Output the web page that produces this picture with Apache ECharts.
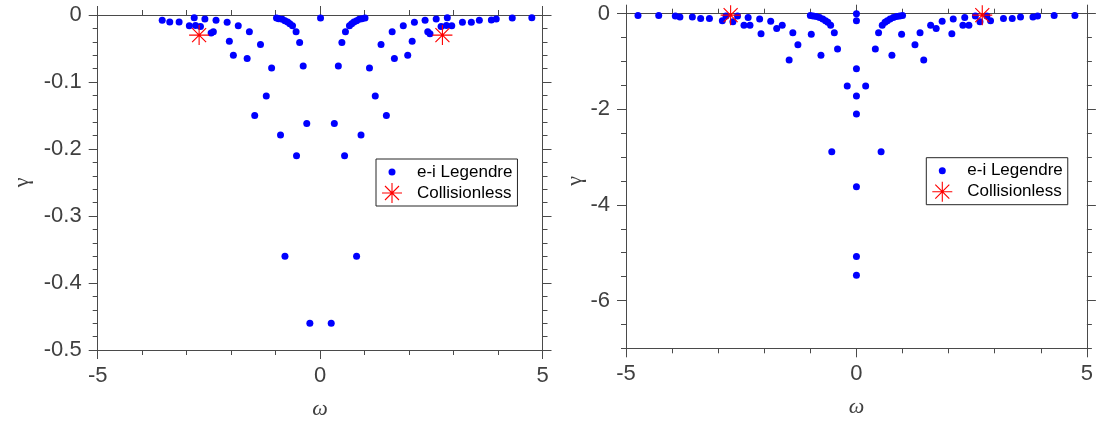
<!DOCTYPE html>
<html>
<head>
<meta charset="utf-8">
<script src="https://cdn.jsdelivr.net/npm/echarts@6/dist/echarts.min.js"></script>
<style>
html,body{margin:0;padding:0;background:#fff;}
#chart{width:1096px;height:432px;}
</style>
</head>
<body>
<div id="chart"></div>
<script>
// ---------- data ----------
const seriesNames = ['e-i Legendre', 'Collisionless'];

// Left panel: e-i Legendre eigenvalues (omega, gamma)
const leftOmega = [
  -3.55, -3.38, -3.17, -2.83, -2.94, -2.80, -2.69, -2.59, -2.40, -2.45, -2.34, -2.09, -2.04, -1.84, -1.95,
  -1.59, -1.64, -1.34, -1.09, -1.21, -1.47, -0.98, -0.93, -0.85, -0.79, -0.73, -0.68, -0.62, -0.54, -0.46,
  -0.38, -0.30, -0.89, -0.53, -0.79, -0.23,
  0.01,
  0.32, 0.41, 0.49, 0.57, 0.66, 0.71, 0.76, 0.82, 0.88, 0.94, 1.01, 1.11, 1.24, 1.49, 1.37, 1.62, 1.67,
  1.87, 1.97, 2.07, 2.12, 2.36, 2.42, 2.47, 2.61, 2.72, 2.84, 2.86, 2.96, 3.20, 3.40, 3.58, 3.85, 3.96,
  4.32, 4.76, 0.92, 0.55, 0.82, 0.25
];
const leftGamma = [
  -0.008, -0.0105, -0.0105, -0.004, -0.016, -0.0155, -0.017, -0.006, -0.025, -0.027, -0.008, -0.011, -0.039, -0.016, -0.060,
  -0.025, -0.065, -0.044, -0.079, -0.121, -0.150, -0.0045, -0.0055, -0.0065, -0.0085, -0.0105, -0.013, -0.016, -0.025, -0.041,
  -0.076, -0.162, -0.179, -0.210, -0.360, -0.460,
  -0.0045,
  -0.162, -0.076, -0.041, -0.025, -0.016, -0.013, -0.0105, -0.0085, -0.0065, -0.0055, -0.0045, -0.079, -0.121, -0.150, -0.044, -0.025, -0.065,
  -0.016, -0.060, -0.039, -0.011, -0.008, -0.025, -0.028, -0.006, -0.017, -0.0155, -0.004, -0.016, -0.011, -0.011, -0.008, -0.0075, -0.006,
  -0.0045, -0.004, -0.179, -0.210, -0.360, -0.460
];
const leftStarOmega = [-2.72, 2.75];
const leftStarGamma = [-0.030, -0.030];

// Right panel: e-i Legendre eigenvalues (omega, gamma)
const rightOmega = [
  0, 0, 0, 0, 0, 0, 0, 0,
  1.00, 0.94, 0.87, 0.80, 0.73, 0.67, 0.62, 0.56, 0.48, 0.41, 0.20, 0.535, 0.98, 0.77, 1.27, 1.38, 1.46, 1.61,
  1.73, 1.86, 2.07, 2.10, 2.31, 2.44, 2.35, 2.58, 2.68, 2.83, 2.91, 3.19, 3.38, 3.56, 3.83, 3.93, 4.29, 4.74,
  -1.00, -0.94, -0.87, -0.80, -0.73, -0.67, -0.62, -0.56, -0.48, -0.41, -0.20, -0.535, -0.98, -0.77, -1.27, -1.38, -1.46, -1.61,
  -1.73, -1.86, -2.07, -2.10, -2.31, -2.44, -2.35, -2.58, -2.68, -2.83, -2.91, -3.19, -3.38, -3.56, -3.83, -3.93, -4.29, -4.74
];
const rightGamma = [
  0.0, -0.15, -1.15, -1.72, -2.10, -3.62, -5.08, -5.47,
  -0.04, -0.05, -0.06, -0.08, -0.11, -0.15, -0.18, -0.24, -0.40, -0.74, -1.51, -2.89, -0.43, -0.87, -0.65, -0.40, -0.97, -0.24,
  -0.31, -0.16, -0.42, -0.11, -0.24, -0.24, -0.08, -0.05, -0.17, -0.05, -0.15, -0.10, -0.10, -0.07, -0.07, -0.05, -0.04, -0.04,
  -0.04, -0.05, -0.06, -0.08, -0.11, -0.15, -0.18, -0.24, -0.40, -0.74, -1.51, -2.89, -0.43, -0.87, -0.65, -0.40, -0.97, -0.24,
  -0.31, -0.16, -0.42, -0.11, -0.24, -0.24, -0.08, -0.05, -0.17, -0.05, -0.15, -0.10, -0.10, -0.07, -0.07, -0.05, -0.04, -0.04
];
const rightStarOmega = [-2.73, 2.73];
const rightStarGamma = [-0.03, -0.03];

// Axis ranges / tick labels
const xRange = [-5, 5];
const xTickLabels = [-5, 0, 5];
const leftYRange = [-0.5, 0];
const leftYTickLabels = [0, -0.1, -0.2, -0.3, -0.4, -0.5];
const rightYRange = [-7, 0];
const rightYTickLabels = [0, -2, -4, -6];
const xName = 'ω';
const yName = 'γ';

// ---------- chart ----------
const zip = (a, b) => a.map((v, i) => [v, b[i]]);

const AX = '#4a4a4a';
const LBL = '#404040';
const FONT = 'Liberation Sans';
// asterisk marker made of four thin filled bars (box 0..20)
const starPath = 'path://' +
  'M0,9.45L20,9.45L20,10.55L0,10.55Z' +
  'M9.45,0L10.55,0L10.55,20L9.45,20Z' +
  'M3.4,2.6L17.4,16.6L16.6,17.4L2.6,3.4Z' +
  'M16.6,2.6L17.4,3.4L3.4,17.4L2.6,16.6Z';
const dotIcon = 'path://M0,0M20,20M6.5,10a3.5,3.5 0 1,0 7,0a3.5,3.5 0 1,0 -7,0Z';
const nameStyleX = () => ({ fontFamily: 'Liberation Serif', fontStyle: 'italic', fontSize: 22, color: LBL });
const nameStyleY = () => ({ fontFamily: 'Liberation Serif', fontSize: 22, color: LBL });
const dotStyle = () => ({ color: '#0000ff', opacity: 1 });
const starStyle = () => ({ color: '#ff0000', borderWidth: 0, opacity: 1 });

function xAxisDef(grid, pos, showLabel) {
  return {
    type: 'value', gridIndex: grid, position: pos,
    min: xRange[0], max: xRange[1], interval: 5,
    name: showLabel ? xName : '',
    nameLocation: 'middle', nameGap: 48,
    nameTextStyle: nameStyleX(),
    axisLine: { show: true, onZero: false, lineStyle: { color: AX, width: 1 } },
    axisTick: { show: true, inside: false, length: 9, lineStyle: { color: AX } },
    minorTick: { show: true, splitNumber: 5, length: 5, lineStyle: { color: AX } },
    axisLabel: { show: showLabel, fontFamily: FONT, fontSize: 22, color: LBL, margin: 15,
      customValues: xTickLabels },
    splitLine: { show: false }, minorSplitLine: { show: false }
  };
}

function legendDef(left, top) {
  return {
    left: left, top: top, orient: 'vertical',
    padding: [3, 5, 3, 6], itemWidth: 40, itemHeight: 20, itemGap: 1,
    borderColor: '#262626', borderWidth: 1, backgroundColor: '#ffffff',
    selectedMode: false,
    textStyle: { fontFamily: FONT, fontSize: 17, color: '#000' },
    data: [
      { name: seriesNames[0], icon: dotIcon, itemStyle: dotStyle() },
      { name: seriesNames[1], icon: starPath, itemStyle: starStyle() }
    ]
  };
}

const option = {
  animation: false,
  backgroundColor: '#ffffff',
  grid: [
    { left: 97.7, top: 15, width: 444.8, height: 335 },
    { left: 626, top: 13.7, width: 466.7, height: 334.6 }
  ],
  xAxis: [
    xAxisDef(0, 'bottom', true),
    xAxisDef(0, 'top', false),
    xAxisDef(1, 'bottom', true),
    xAxisDef(1, 'top', false)
  ],
  yAxis: [
    { // 0: left panel, left
      type: 'value', gridIndex: 0, position: 'left',
      min: leftYRange[0], max: leftYRange[1], interval: 0.1,
      name: yName, nameLocation: 'middle', nameGap: 64, nameRotate: 90,
      nameTextStyle: nameStyleY(),
      axisLine: { show: true, onZero: false, lineStyle: { color: AX, width: 1 } },
      axisTick: { show: true, length: 9, lineStyle: { color: AX } },
      minorTick: { show: true, splitNumber: 5, length: 5, lineStyle: { color: AX } },
      axisLabel: { fontFamily: FONT, fontSize: 22, color: LBL, margin: 16, customValues: leftYTickLabels },
      splitLine: { show: false }
    },
    { // 1: left panel, right
      type: 'value', gridIndex: 0, position: 'right',
      min: leftYRange[0], max: leftYRange[1], interval: 0.1,
      axisLine: { show: true, onZero: false, lineStyle: { color: AX, width: 1 } },
      axisTick: { show: true, length: 9, lineStyle: { color: AX } },
      minorTick: { show: true, splitNumber: 5, length: 5, lineStyle: { color: AX } },
      axisLabel: { show: false }, splitLine: { show: false }
    },
    { // 2: right panel, left, minor ticks (data axis)
      type: 'value', gridIndex: 1, position: 'left',
      min: rightYRange[0], max: rightYRange[1], interval: 0.5,
      axisLine: { show: true, onZero: false, lineStyle: { color: AX, width: 1 } },
      axisTick: { show: true, length: 5, lineStyle: { color: AX } },
      axisLabel: { show: false }, splitLine: { show: false }
    },
    { // 3: right panel, left, major ticks + labels
      type: 'value', gridIndex: 1, position: 'left',
      min: rightYRange[0], max: rightYRange[1],
      name: yName, nameLocation: 'middle', nameGap: 18, nameRotate: 90,
      nameTextStyle: nameStyleY(),
      axisLine: { show: false, onZero: false },
      axisTick: { show: true, length: 9, customValues: rightYTickLabels, lineStyle: { color: AX } },
      axisLabel: { fontFamily: FONT, fontSize: 22, color: LBL, margin: 16, customValues: rightYTickLabels },
      splitLine: { show: false }
    },
    { // 4: right panel, right, minor ticks
      type: 'value', gridIndex: 1, position: 'right',
      min: rightYRange[0], max: rightYRange[1], interval: 0.5,
      axisLine: { show: true, onZero: false, lineStyle: { color: AX, width: 1 } },
      axisTick: { show: true, length: 5, lineStyle: { color: AX } },
      axisLabel: { show: false }, splitLine: { show: false }
    },
    { // 5: right panel, right, major ticks
      type: 'value', gridIndex: 1, position: 'right',
      min: rightYRange[0], max: rightYRange[1],
      axisLine: { show: false, onZero: false },
      axisTick: { show: true, length: 9, customValues: rightYTickLabels, lineStyle: { color: AX } },
      axisLabel: { show: false }, splitLine: { show: false }
    }
  ],
  legend: [legendDef(376, 159), legendDef(926.3, 157.7)],
  series: [
    {
      name: seriesNames[0], type: 'scatter', xAxisIndex: 0, yAxisIndex: 0,
      symbol: 'circle', symbolSize: 7, itemStyle: dotStyle(),
      data: zip(leftOmega, leftGamma), z: 2
    },
    {
      name: seriesNames[1], type: 'scatter', xAxisIndex: 0, yAxisIndex: 0,
      symbol: starPath, symbolSize: 20, itemStyle: starStyle(),
      data: zip(leftStarOmega, leftStarGamma), z: 3
    },
    {
      name: seriesNames[0], type: 'scatter', xAxisIndex: 2, yAxisIndex: 2,
      symbol: 'circle', symbolSize: 7, itemStyle: dotStyle(),
      data: zip(rightOmega, rightGamma), z: 2
    },
    {
      name: seriesNames[1], type: 'scatter', xAxisIndex: 2, yAxisIndex: 2,
      symbol: starPath, symbolSize: 20, itemStyle: starStyle(),
      data: zip(rightStarOmega, rightStarGamma), z: 3
    }
  ]
};

const chart = echarts.init(document.getElementById('chart'), null, { renderer: 'canvas' });
chart.setOption(option);
</script>
</body>
</html>
